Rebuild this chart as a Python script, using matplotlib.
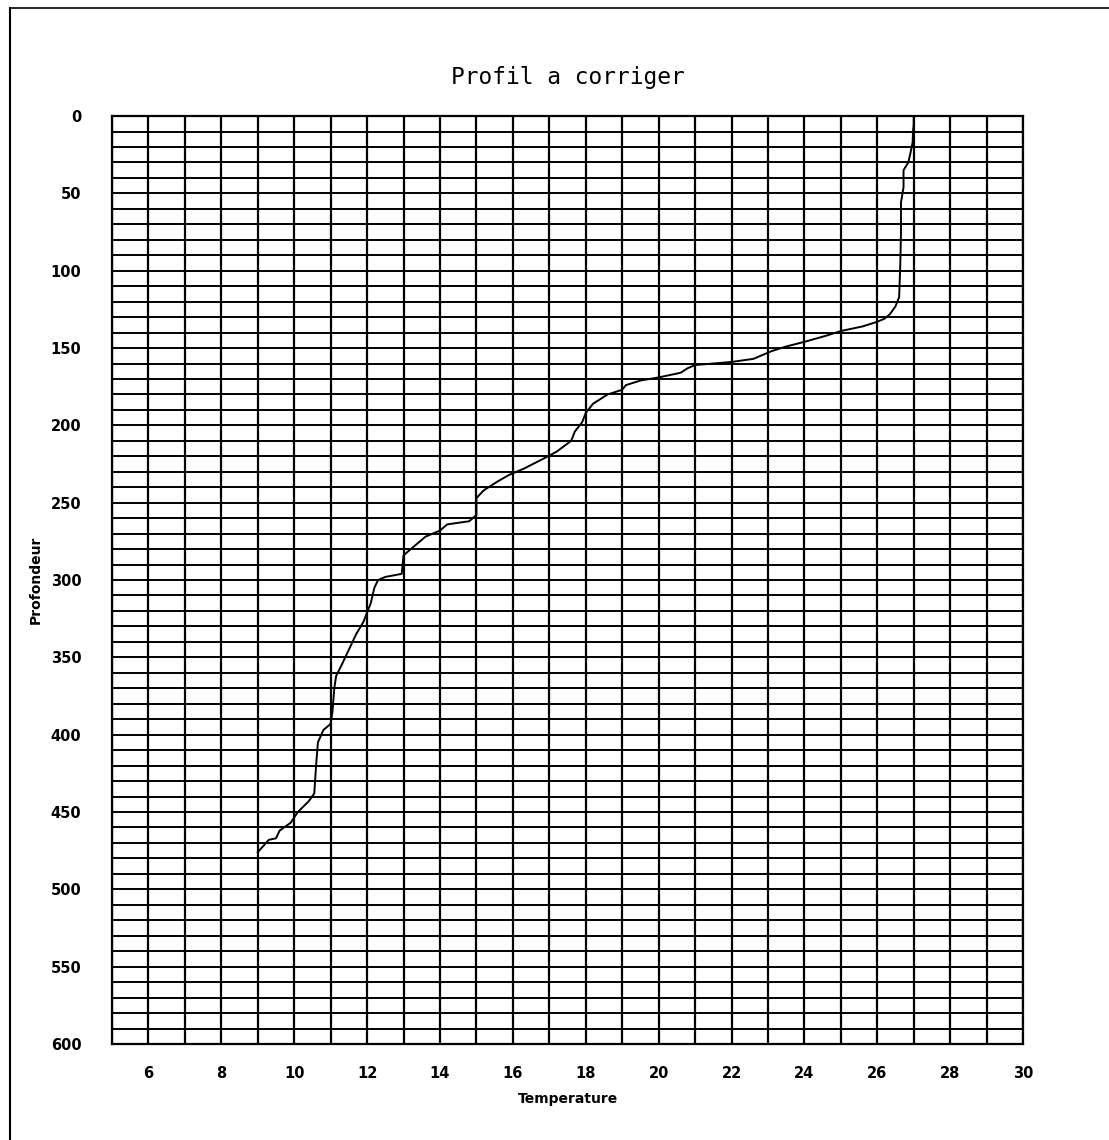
import matplotlib.pyplot as plt
from matplotlib.lines import Line2D

# profil (temperature, profondeur)
temperature = [27.0, 27.0, 26.98, 26.97, 26.9, 26.85, 26.72, 26.72, 26.65, 26.65,
               26.63, 26.6, 26.5, 26.35, 26.2, 26.0, 25.6, 25.0, 24.6, 24.0,
               23.5, 23.1, 22.8, 22.6, 22.0, 21.0, 20.8, 20.6, 20.0, 19.5,
               19.1, 19.0, 18.6, 18.2, 18.0, 17.9, 17.7, 17.6, 17.2, 16.8,
               16.3, 15.9, 15.6, 15.2, 15.0, 15.0, 14.8, 14.2, 14.0, 13.6,
               13.3, 13.0, 12.95, 12.5, 12.3, 12.2, 12.1, 11.9, 11.7, 11.5,
               11.3, 11.15, 11.1, 11.05, 11.0, 10.8, 10.65, 10.6, 10.55, 10.4,
               10.1, 9.9, 9.6, 9.5, 9.3, 9.0]
profondeur = [0, 5, 10, 17, 25, 30, 35, 46, 56, 76,
              97, 117, 123, 128, 131, 133, 136, 139, 142, 146,
              149, 152, 155, 157, 159, 161, 163, 166, 169, 171,
              174, 177, 180, 186, 192, 198, 204, 210, 217, 222,
              228, 232, 236, 242, 247, 258, 262, 264, 268, 272,
              278, 284, 296, 298, 300, 305, 315, 327, 335, 345,
              355, 362, 370, 385, 393, 397, 405, 420, 438, 443,
              450, 457, 462, 467, 468, 476]

xticks = list(range(6, 31, 2))
yticks = list(range(0, 601, 50))

fig = plt.figure(figsize=(11.09, 11.40), dpi=100)
ax = fig.add_axes([0.101, 0.0842, 0.8215, 0.814])

ax.set_xlim(5, 30)
ax.set_ylim(600, 0)

# grille : 1 degre en x, 10 m en y
for t in range(5, 31):
    ax.axvline(t, color='black', lw=1.6, zorder=1)
for d in range(0, 601, 10):
    ax.axhline(d, color='black', lw=1.4, zorder=1)

ax.plot(temperature, profondeur, color='black', lw=1.4, zorder=3)

ax.set_xticks(xticks)
ax.set_yticks(yticks)
ax.tick_params(length=0, labelsize=10.5)
ax.tick_params(axis='x', pad=16)
ax.tick_params(axis='y', pad=22)
for lab in ax.get_xticklabels() + ax.get_yticklabels():
    lab.set_fontweight('bold')
for s in ax.spines.values():
    s.set_linewidth(1.6)

ax.set_title('Profil a corriger', fontsize=16.5, family='DejaVu Sans Mono', pad=23)
ax.set_xlabel('Temperature', fontsize=10, fontweight='bold', labelpad=8)
ax.set_ylabel('Profondeur', fontsize=10, fontweight='bold', labelpad=6)

# cadre de la page
fig.add_artist(Line2D([0.009, 0.009], [0, 0.993], color='black', lw=1.5))
fig.add_artist(Line2D([0.009, 1], [0.993, 0.993], color='black', lw=1.2))

plt.savefig('out.png')
plt.close()
